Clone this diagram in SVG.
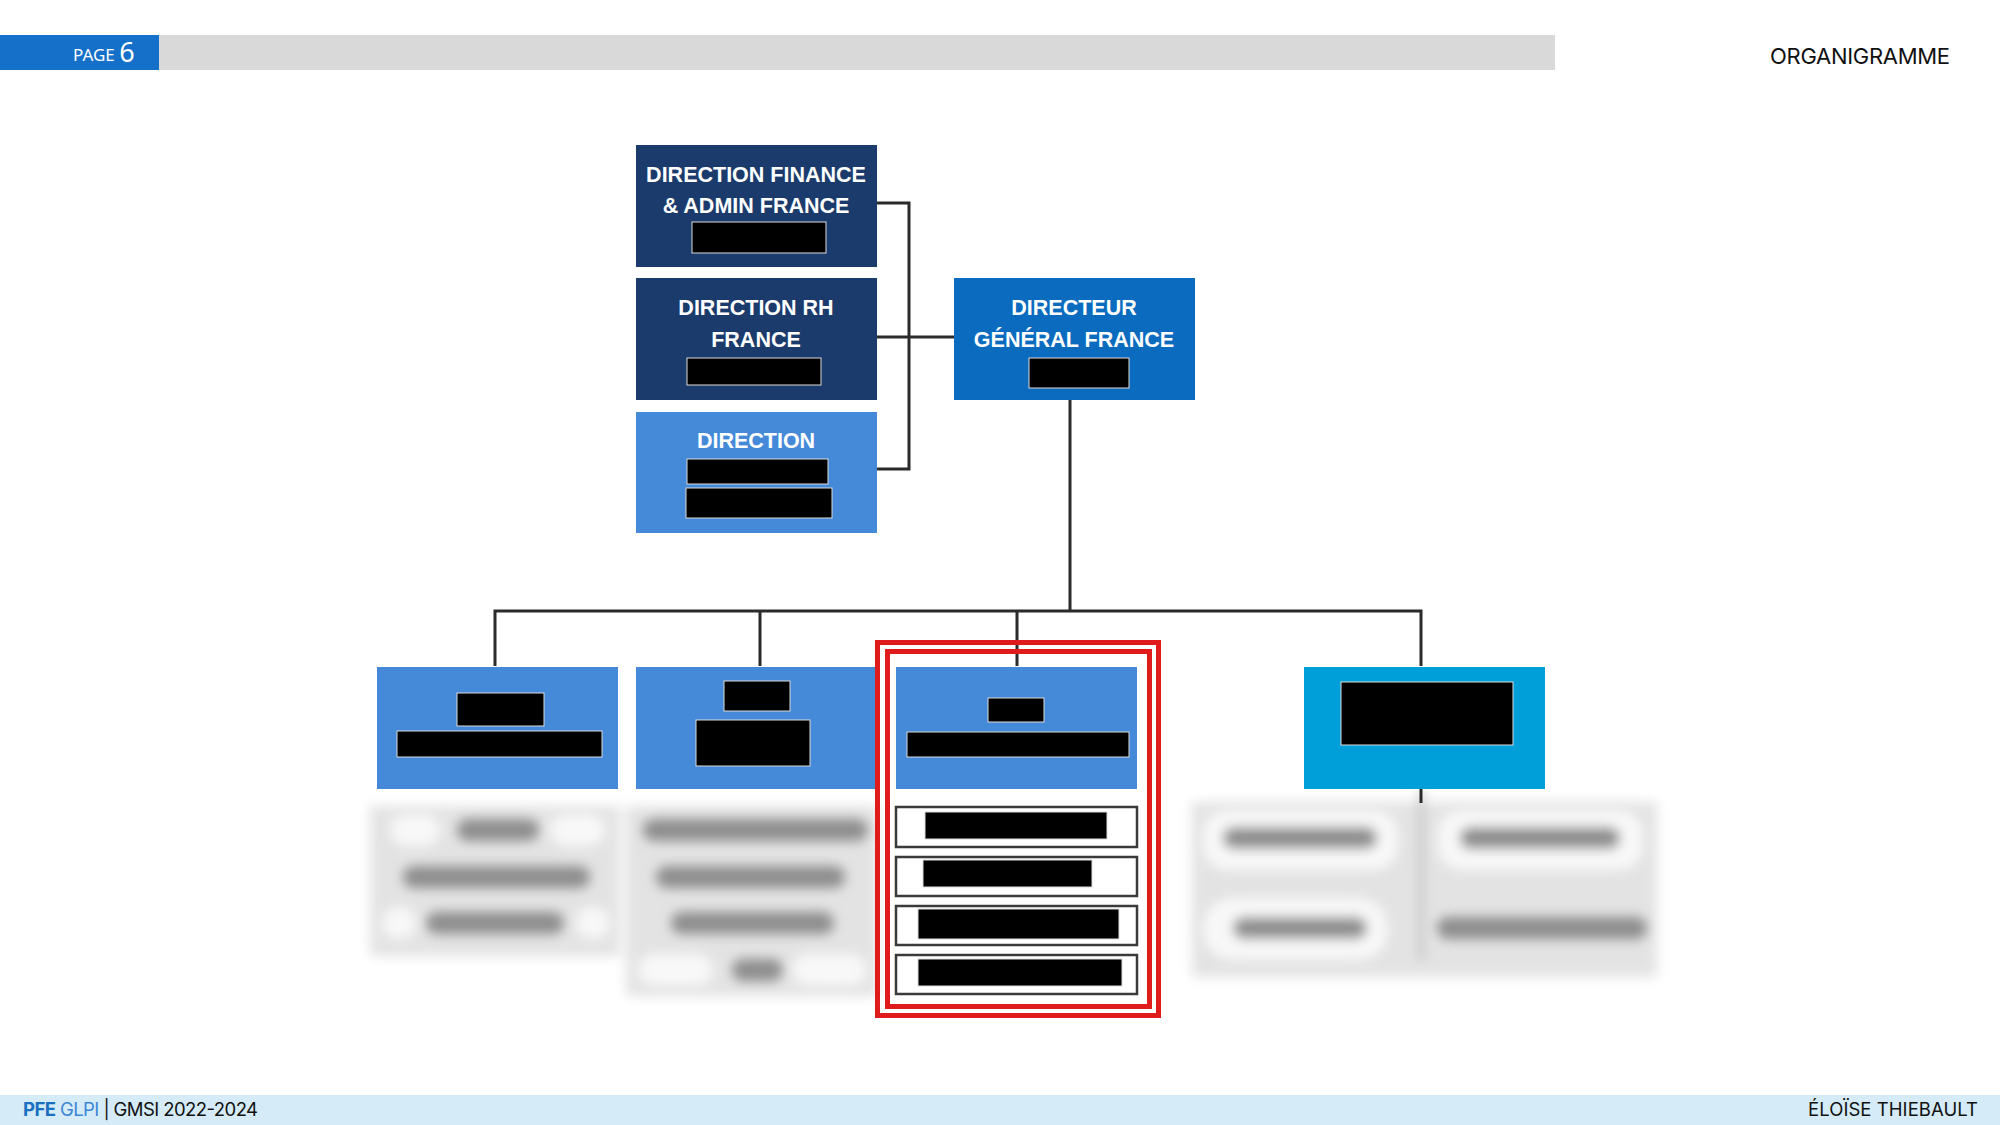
<svg xmlns="http://www.w3.org/2000/svg" width="2000" height="1125" viewBox="0 0 2000 1125">
<defs>
<style>
.nt{font-family:"Liberation Sans",Arial,sans-serif;font-weight:bold;font-size:21.5px;fill:#ffffff;text-anchor:middle}
.rd{fill:#000000;stroke:#dcdcdc;stroke-width:1}
.conn{stroke:#2b2b2b;stroke-width:3;fill:none}
.navy{fill:#1b3b6c}
.lb{fill:#4589d9}
.sub{fill:#ffffff;stroke:#3a3a3a;stroke-width:2.5}
.frame{fill:none;stroke:#e01b1b;stroke-width:5}
.blob{fill:#8e8e8e}
.pill{fill:#f8f8f8}
</style>
<filter id="bl" x="-30%" y="-100%" width="160%" height="300%"><feGaussianBlur stdDeviation="6"/></filter>
<filter id="bl2" x="-10%" y="-10%" width="120%" height="120%"><feGaussianBlur stdDeviation="6"/></filter>
</defs>
<rect width="2000" height="1125" fill="#ffffff"/>

<g id="header">
<rect x="0" y="35" width="159" height="35" fill="#1470c8"/>
<rect x="159" y="35" width="1396" height="35" fill="#d9d9d9"/>
<text x="73" y="61" font-family="'Noto Sans',sans-serif" font-size="17" fill="#ffffff">PAGE <tspan font-size="27" y="62">6</tspan></text>
<text x="1770" y="64" font-family="Inter,'Noto Sans',sans-serif" font-size="22" fill="#111111" textLength="180">ORGANIGRAMME</text>
</g>

<g id="blurred-lists">
<g filter="url(#bl2)">
<rect x="370" y="806" width="250" height="150" fill="#e3e3e3"/>
<rect x="626" y="806" width="252" height="190" fill="#e3e3e3"/>
<rect x="1192" y="802" width="465" height="175" fill="#e3e3e3"/>
</g>
<g filter="url(#bl)">
<rect class="pill" x="390" y="814" width="50" height="32" rx="16"/>
<rect class="pill" x="550" y="814" width="55" height="32" rx="16"/>
<rect class="pill" x="382" y="907" width="34" height="32" rx="16"/>
<rect class="pill" x="576" y="907" width="34" height="32" rx="16"/>
<rect class="pill" x="638" y="954" width="75" height="32" rx="16"/>
<rect class="pill" x="792" y="954" width="75" height="32" rx="16"/>
<rect class="pill" x="1203" y="810" width="195" height="60" rx="24"/>
<rect class="pill" x="1438" y="810" width="205" height="60" rx="24"/>
<rect class="pill" x="1203" y="898" width="185" height="62" rx="30"/>
<rect class="blob" x="457" y="819" width="82" height="22" rx="11"/>
<rect class="blob" x="403" y="866" width="187" height="22" rx="11"/>
<rect class="blob" x="426" y="912" width="138" height="22" rx="11"/>
<rect class="blob" x="643" y="819" width="225" height="22" rx="11"/>
<rect class="blob" x="656" y="866" width="189" height="22" rx="11"/>
<rect class="blob" x="671" y="912" width="163" height="22" rx="11"/>
<rect class="blob" x="732" y="959" width="51" height="22" rx="11"/>
<rect class="blob" x="1223" y="827" width="154" height="22" rx="11"/>
<rect class="blob" x="1460" y="827" width="160" height="22" rx="11"/>
<rect class="blob" x="1233" y="917" width="134" height="22" rx="11"/>
<rect class="blob" x="1437" y="917" width="210" height="22" rx="11"/>
<rect x="1419" y="790" width="4" height="170" fill="#b5b5b5"/>
</g>
</g>

<g id="connectors">
<path class="conn" d="M877 203 H909 V469 H877"/>
<path class="conn" d="M877 337 H954"/>
<path class="conn" d="M1070 400 V611"/>
<path class="conn" d="M495 666 V611 H1421 V666"/>
<path class="conn" d="M760 611 V666"/>
<path class="conn" d="M1017 611 V666"/>
<path class="conn" d="M1421 789 V803"/>
</g>

<g id="dir-finance">
<rect class="navy" x="636" y="145" width="241" height="122"/>
<text class="nt" x="756" y="182">DIRECTION FINANCE</text>
<text class="nt" x="756" y="213">&amp; ADMIN FRANCE</text>
<rect class="rd" x="692" y="222" width="134" height="31"/>
</g>

<g id="dir-rh">
<rect class="navy" x="636" y="278" width="241" height="122"/>
<text class="nt" x="756" y="315">DIRECTION RH</text>
<text class="nt" x="756" y="347">FRANCE</text>
<rect class="rd" x="687" y="358" width="134" height="27"/>
</g>

<g id="direction">
<rect class="lb" x="636" y="412" width="241" height="121"/>
<text class="nt" x="756" y="448">DIRECTION</text>
<rect class="rd" x="687" y="459" width="141" height="25"/>
<rect class="rd" x="686" y="488" width="146" height="30"/>
</g>

<g id="dg">
<rect x="954" y="278" width="241" height="122" fill="#0a6bbf"/>
<text class="nt" x="1074" y="315">DIRECTEUR</text>
<text class="nt" x="1074" y="347">GÉNÉRAL FRANCE</text>
<rect class="rd" x="1029" y="358" width="100" height="30"/>
</g>

<g id="b1">
<rect class="lb" x="377" y="667" width="241" height="122"/>
<rect class="rd" x="457" y="693" width="87" height="33"/>
<rect class="rd" x="397" y="731" width="205" height="26"/>
</g>

<g id="b2">
<rect class="lb" x="636" y="667" width="240" height="122"/>
<rect class="rd" x="724" y="681" width="66" height="30"/>
<rect class="rd" x="696" y="720" width="114" height="46"/>
</g>

<g id="b3">
<rect class="lb" x="896" y="667" width="241" height="122"/>
<rect class="rd" x="988" y="698" width="56" height="24"/>
<rect class="rd" x="907" y="732" width="222" height="25"/>
</g>

<g id="b3-items">
<rect class="sub" x="896" y="807" width="241" height="40"/>
<rect class="rd" x="925" y="812" width="182" height="27"/>
<rect class="sub" x="896" y="857" width="241" height="39"/>
<rect class="rd" x="923" y="860" width="169" height="27"/>
<rect class="sub" x="896" y="906" width="241" height="39"/>
<rect class="rd" x="918" y="909" width="201" height="30"/>
<rect class="sub" x="896" y="955" width="241" height="39"/>
<rect class="rd" x="918" y="959" width="204" height="27"/>
</g>

<g id="b4">
<rect x="1304" y="667" width="241" height="122" fill="#009fd9"/>
<rect class="rd" x="1341" y="682" width="172" height="63"/>
</g>

<g id="highlight">
<rect class="frame" x="877.5" y="642.5" width="281" height="373"/>
<rect class="frame" x="887.5" y="651.5" width="262" height="355"/>
</g>

<g id="footer">
<rect x="0" y="1095" width="2000" height="30" fill="#d5ebf7"/>
<text x="23" y="1116" font-family="Inter,'Noto Sans',sans-serif" font-size="18.5" textLength="235"><tspan font-weight="bold" fill="#1a6fc0">PFE</tspan><tspan fill="#3b86d6"> GLPI</tspan><tspan fill="#111111"> | GMSI 2022-2024</tspan></text>
<text x="1978" y="1116" font-family="Inter,'Noto Sans',sans-serif" font-size="18.5" fill="#111111" text-anchor="end" textLength="170">ÉLOÏSE THIEBAULT</text>
</g>
</svg>
